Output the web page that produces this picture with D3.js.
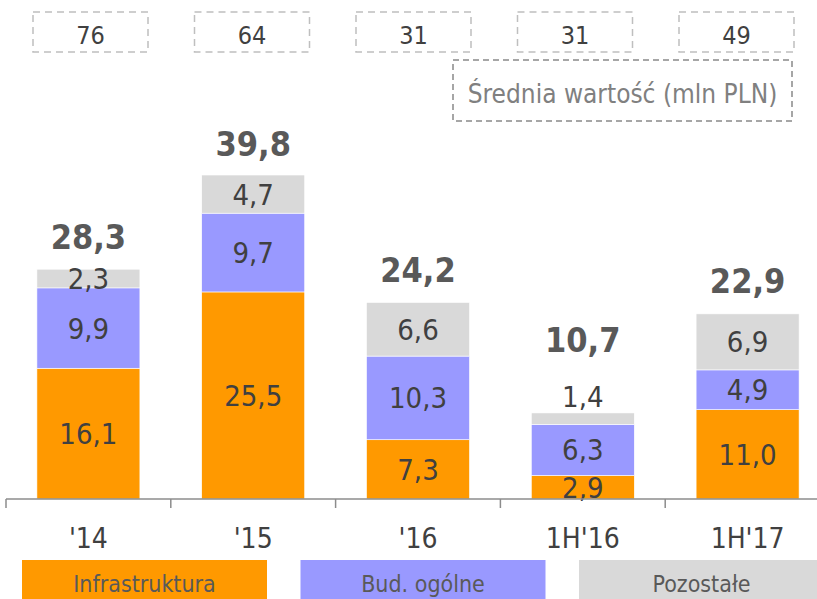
<!DOCTYPE html>
<html>
<head>
<meta charset="utf-8">
<script src="https://cdn.jsdelivr.net/npm/d3@7"></script>
<style>
  body { margin: 0; background: #fff; }
  svg { display: block; font-family: "DejaVu Sans Condensed", "DejaVu Sans", sans-serif; font-stretch: condensed; }
</style>
</head>
<body>
<svg id="chart" width="817" height="599"></svg>
<script>
const categories = ["'14", "'15", "'16", "1H'16", "1H'17"]
const infrastruktura = [16.1, 25.5, 7.3, 2.9, 11.0]
const budOgolne = [9.9, 9.7, 10.3, 6.3, 4.9]
const pozostale = [2.3, 4.7, 6.6, 1.4, 6.9]
const totals = [28.3, 39.8, 24.2, 10.7, 22.9]
const avgValues = [76, 64, 31, 31, 49]
const seriesNames = ["Infrastruktura", "Bud. ogólne", "Pozostałe"]
const colors = ["#FF9900", "#9999FF", "#D9D9D9"]

const fmt = (v) => v.toFixed(1).replace(".", ",")

const svg = d3.select("#chart")

const x = d3.scaleBand()
            .domain(categories)
            .range([6, 830])
            .paddingInner(0.375)
            .paddingOuter(0.1875)

const y = d3.scaleLinear()
            .domain([0, 40])
            .range([499, 499 - 40 * 8.12])

// scale for the dashed boxes on top
const xBox = d3.scalePoint()
               .domain(categories)
               .range([90.5, 736.5])

const rows = categories.map((c, i) => ({
  cat: c,
  values: [infrastruktura[i], budOgolne[i], pozostale[i]],
  total: totals[i]
}))

const stackData = categories.map((c, i) => ({
  cat: c, s0: infrastruktura[i], s1: budOgolne[i], s2: pozostale[i]
}))
const stack = d3.stack().keys(["s0", "s1", "s2"])(stackData)

// bars
const layer = svg.selectAll("g.layer")
                 .data(stack)
                 .enter()
                 .append("g")
                 .attr("class", "layer")
                 .attr("fill", (d, i) => colors[i])

layer.selectAll("rect")
     .data(d => d)
     .enter()
     .append("rect")
     .attr("x", d => x(d.data.cat))
     .attr("y", d => y(d[1]))
     .attr("width", x.bandwidth())
     .attr("height", d => y(d[0]) - y(d[1]))
     .attr("stroke", "#fff")
     .attr("stroke-width", 0.6)

// segment labels
layer.selectAll("text")
     .data(d => d)
     .enter()
     .append("text")
     .attr("x", d => x(d.data.cat) + x.bandwidth() / 2)
     .attr("y", d => {
        const h = y(d[0]) - y(d[1])
        if (h < 16) return y(d[1]) - 6
        return (y(d[0]) + y(d[1])) / 2 + 10.5
     })
     .attr("text-anchor", "middle")
     .attr("font-size", 29)
     .attr("fill", "#404040")
     .text(d => fmt(d[1] - d[0]))

// totals
svg.selectAll("text.total")
   .data(rows)
   .enter()
   .append("text")
   .attr("class", "total")
   .attr("x", d => x(d.cat) + x.bandwidth() / 2)
   .attr("y", d => {
      const small = (y(d.total - d.values[2]) - y(d.total)) < 16
      return y(d.total) - 20 - (small ? 40 : 0)
   })
   .attr("text-anchor", "middle")
   .attr("font-size", 34)
   .attr("font-weight", "bold")
   .attr("fill", "#595959")
   .text(d => fmt(d.total))

// axis
const step = x.step()
const axisColor = "#8C8C8C"
svg.append("line")
   .attr("x1", 6).attr("x2", 817)
   .attr("y1", y(0)).attr("y2", y(0))
   .attr("stroke", axisColor)
   .attr("stroke-width", 1.5)

svg.selectAll("line.tick")
   .data(categories)
   .enter()
   .append("line")
   .attr("class", "tick")
   .attr("x1", c => x(c) - step * 0.1875)
   .attr("x2", c => x(c) - step * 0.1875)
   .attr("y1", y(0))
   .attr("y2", y(0) + 9)
   .attr("stroke", axisColor)
   .attr("stroke-width", 1.5)

svg.selectAll("text.cat")
   .data(categories)
   .enter()
   .append("text")
   .attr("class", "cat")
   .attr("x", c => x(c) + x.bandwidth() / 2)
   .attr("y", 548)
   .attr("text-anchor", "middle")
   .attr("font-size", 28)
   .attr("fill", "#404040")
   .text(c => c)

// top dashed boxes with average values
const box = svg.selectAll("g.avg")
               .data(categories)
               .enter()
               .append("g")
               .attr("class", "avg")
               .attr("transform", c => "translate(" + xBox(c) + ", 0)")

box.append("rect")
   .attr("x", -57.5).attr("y", 12)
   .attr("width", 115).attr("height", 40)
   .attr("fill", "none")
   .attr("stroke", "#BFBFBF")
   .attr("stroke-width", 1.5)
   .attr("stroke-dasharray", "7,5")

box.append("text")
   .attr("y", 44)
   .attr("text-anchor", "middle")
   .attr("font-size", 25)
   .attr("fill", "#404040")
   .text((c, i) => avgValues[i])

svg.append("rect")
   .attr("x", 453).attr("y", 60)
   .attr("width", 339).attr("height", 61)
   .attr("fill", "none")
   .attr("stroke", "#A6A6A6")
   .attr("stroke-width", 2)
   .attr("stroke-dasharray", "6,4")

svg.append("text")
   .attr("x", 622.5).attr("y", 103)
   .attr("text-anchor", "middle")
   .attr("font-size", 26)
   .attr("fill", "#808080")
   .text("Średnia wartość (mln PLN)")

// legend
const legend = svg.selectAll("g.legend")
                  .data(seriesNames)
                  .enter()
                  .append("g")
                  .attr("class", "legend")
                  .attr("transform", (d, i) => "translate(" + (22 + i * 278.5) + ", 560)")

legend.append("rect")
      .attr("width", 245).attr("height", 40)
      .attr("fill", (d, i) => colors[i])

legend.append("text")
      .attr("x", 122.5).attr("y", 32)
      .attr("text-anchor", "middle")
      .attr("font-size", 23)
      .attr("fill", "#595959")
      .text(d => d)
</script>
</body>
</html>
